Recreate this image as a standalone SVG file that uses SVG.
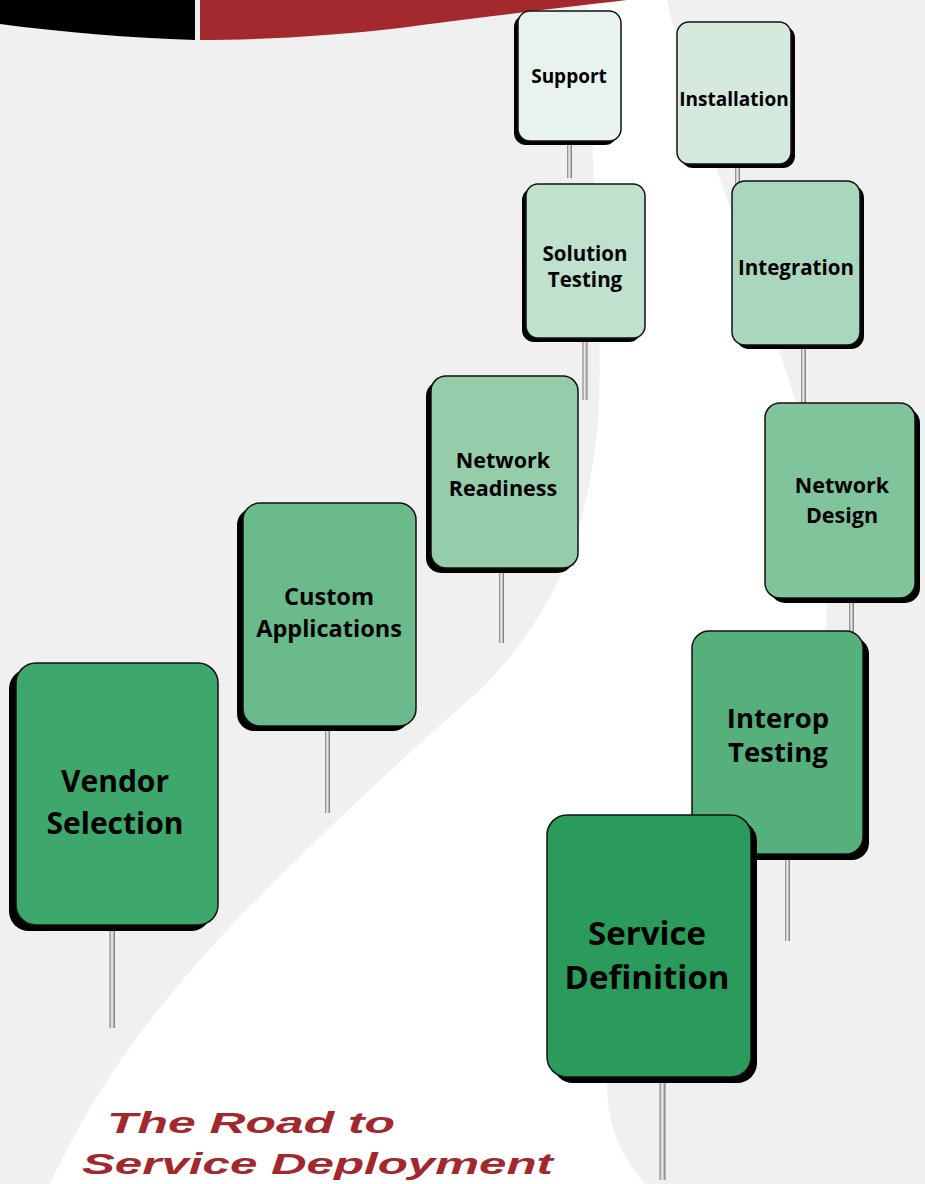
<svg xmlns="http://www.w3.org/2000/svg" width="925" height="1184" viewBox="0 0 925 1184">
  <defs>
    <linearGradient id="postGrad" x1="0" y1="0" x2="1" y2="0">
      <stop offset="0" stop-color="#7a7a7a"/>
      <stop offset="0.45" stop-color="#f4f4f4"/>
      <stop offset="1" stop-color="#6e6e6e"/>
    </linearGradient>
    <style>
      .post { fill: url(#postGrad); }
      .shadow { fill: #000; }
      .sign { stroke: #111; stroke-width: 1.5; }
      .lbl { font-family: "Open Sans", "Noto Sans", "DejaVu Sans", sans-serif; font-weight: bold; fill: #000; text-anchor: middle; }
      .title { font-family: "Liberation Sans", Arial, sans-serif; font-weight: bold; font-style: italic; fill: #a3282e; font-size: 30px; }
    </style>
  </defs>

  <!-- background and road -->
  <rect x="0" y="0" width="925" height="1184" fill="#f0f0f0"/>
  <path id="road" fill="#ffffff" d="M587,0 L667,0 C700,150 790,350 815,480 C840,600 830,700 760,800 C690,900 610,960 607,1080 C606,1130 625,1160 645,1184 L50,1184 C90,1100 130,1040 200,960 C270,880 400,760 480,690 C560,610 590,520 598,420 C605,300 590,150 587,0 Z"/>

  <!-- banner -->
  <path fill="#000000" d="M0,0 L195,0 L195,40 C130,38 60,32 0,24 Z"/>
  <path fill="#a3292f" d="M200,0 L627,0 C560,8 480,17 400,28 C330,36 260,40 200,40 Z"/>

  <!-- connectors: sign posts -->
  <g id="posts">
    <rect class="post" x="567" y="141" width="5" height="37"/>
    <rect class="post" x="735" y="164" width="5" height="22"/>
    <rect class="post" x="582.5" y="338" width="5" height="62"/>
    <rect class="post" x="801" y="345" width="5" height="58"/>
    <rect class="post" x="499" y="568" width="5" height="75"/>
    <rect class="post" x="849" y="598" width="5" height="34"/>
    <rect class="post" x="325" y="726" width="5" height="87"/>
    <rect class="post" x="785" y="854" width="5" height="87"/>
    <rect class="post" x="109.5" y="925" width="5.5" height="103"/>
    <rect class="post" x="659.5" y="1077" width="6" height="103"/>
  </g>

  <g id="support">
    <rect class="shadow" x="514" y="15" width="103" height="130" rx="12"/>
    <rect class="sign" x="518" y="11" width="103" height="130" rx="12" fill="#e9f3ed"/>
    <text class="lbl" x="569" y="83" font-size="19">Support</text>
  </g>

  <g id="installation">
    <rect class="shadow" x="681" y="26" width="114" height="142" rx="12"/>
    <rect class="sign" x="677" y="22" width="114" height="142" rx="12" fill="#d5eadd"/>
    <text class="lbl" x="734" y="106" font-size="19">Installation</text>
  </g>

  <g id="solution-testing">
    <rect class="shadow" x="522" y="188" width="119" height="154" rx="12"/>
    <rect class="sign" x="526" y="184" width="119" height="154" rx="12" fill="#c0e1cd"/>
    <text class="lbl" x="585" y="261" font-size="20.5">Solution</text>
    <text class="lbl" x="585" y="287" font-size="20.5">Testing</text>
  </g>

  <g id="integration">
    <rect class="shadow" x="736" y="185" width="128" height="164" rx="13"/>
    <rect class="sign" x="732" y="181" width="128" height="164" rx="13" fill="#a9d7bd"/>
    <text class="lbl" x="796" y="275" font-size="20.5">Integration</text>
  </g>

  <g id="network-readiness">
    <rect class="shadow" x="426" y="381" width="147" height="192" rx="15"/>
    <rect class="sign" x="431" y="376" width="147" height="192" rx="15" fill="#95cdab"/>
    <text class="lbl" x="503" y="468" font-size="21.5">Network</text>
    <text class="lbl" x="503" y="496" font-size="21.5">Readiness</text>
  </g>

  <g id="network-design">
    <rect class="shadow" x="770" y="408" width="150" height="195" rx="15"/>
    <rect class="sign" x="765" y="403" width="150" height="195" rx="15" fill="#80c49c"/>
    <text class="lbl" x="842" y="493" font-size="21.5">Network</text>
    <text class="lbl" x="842" y="523" font-size="21.5">Design</text>
  </g>

  <g id="custom-applications">
    <rect class="shadow" x="237" y="508" width="173" height="223" rx="17"/>
    <rect class="sign" x="243" y="503" width="173" height="223" rx="17" fill="#6aba8c"/>
    <text class="lbl" x="329" y="605" font-size="23.5">Custom</text>
    <text class="lbl" x="329" y="637" font-size="23.5">Applications</text>
  </g>

  <g id="interop-testing">
    <rect class="shadow" x="698" y="637" width="171" height="223" rx="17"/>
    <rect class="sign" x="692" y="631" width="171" height="223" rx="17" fill="#55b07c"/>
    <text class="lbl" x="778" y="728" font-size="27.5">Interop</text>
    <text class="lbl" x="778" y="762" font-size="27.5">Testing</text>
  </g>

  <g id="vendor-selection">
    <rect class="shadow" x="9" y="669" width="202" height="262" rx="20"/>
    <rect class="sign" x="16" y="663" width="202" height="262" rx="20" fill="#3ea76b"/>
    <text class="lbl" x="115" y="792" font-size="30">Vendor</text>
    <text class="lbl" x="115" y="834" font-size="30">Selection</text>
  </g>

  <g id="service-definition">
    <rect class="shadow" x="553" y="821" width="204" height="262" rx="20"/>
    <rect class="sign" x="547" y="815" width="204" height="262" rx="20" fill="#2a9b5b"/>
    <text class="lbl" x="647" y="945" font-size="33">Service</text>
    <text class="lbl" x="647" y="989" font-size="33">Definition</text>
  </g>

  <!-- title -->
  <text class="title" x="107" y="1133" textLength="288" lengthAdjust="spacingAndGlyphs">The Road to</text>
  <text class="title" x="82" y="1174" textLength="471" lengthAdjust="spacingAndGlyphs">Service Deployment</text>
</svg>
